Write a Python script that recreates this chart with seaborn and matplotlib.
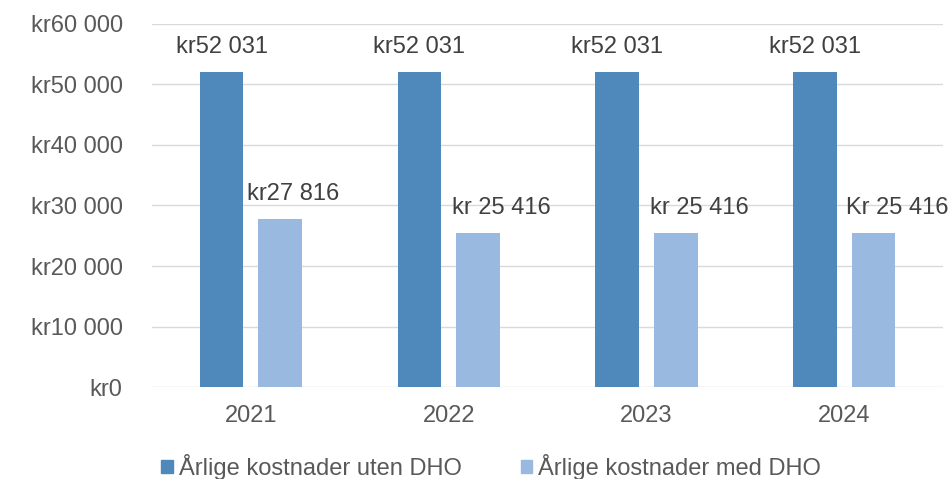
import matplotlib
matplotlib.use("Agg")
import matplotlib.pyplot as plt
import seaborn as sns
import pandas as pd
from matplotlib.ticker import FuncFormatter

years = ["2021", "2022", "2023", "2024"]
series = ["Årlige kostnader uten DHO", "Årlige kostnader med DHO"]
uten_dho = [52031, 52031, 52031, 52031]
med_dho = [27816, 25416, 25416, 25416]
uten_labels = ["kr52 031", "kr52 031", "kr52 031", "kr52 031"]
med_labels = ["kr27 816", "kr 25 416", "kr 25 416", "Kr 25 416"]
yticks = [0, 10000, 20000, 30000, 40000, 50000, 60000]

df = pd.DataFrame({
    "År": years * 2,
    "Serie": [series[0]] * 4 + [series[1]] * 4,
    "Kostnad": uten_dho + med_dho,
})

sns.set_theme(style="white")
plt.rcParams["font.family"] = ["Liberation Sans", "DejaVu Sans"]

FS = 17
colors = ["#4F89BC", "#99B9E0"]
fig = plt.figure(figsize=(9.49, 4.79), dpi=100)
ax = fig.add_axes([0.160, 0.192, 0.834, 0.758])

sns.barplot(data=df, x="År", y="Kostnad", hue="Serie", palette=colors,
            width=0.59, gap=0.25, ax=ax, legend=False, saturation=1,
            edgecolor="none")

ax.set_ylim(0, 60000)
ax.set_yticks(yticks)
ax.yaxis.set_major_formatter(FuncFormatter(
    lambda v, p: "kr" + f"{int(v):,}".replace(",", " ")))
ax.set_xlim(-0.5, 3.5)
ax.set_xlabel("")
ax.set_ylabel("")
ax.grid(axis="y", color="#D9D9D9", linewidth=1.0)
ax.set_axisbelow(True)
for s in ax.spines.values():
    s.set_visible(False)
ax.tick_params(axis="y", length=0, pad=21, labelsize=FS, labelcolor="#595959")
ax.tick_params(axis="x", length=0, pad=13, labelsize=FS, labelcolor="#595959")

# data labels
label_dx_px = [[0, 0, 0, 0], [13, 24, 24, 24]]
for ci, (cont, labs) in enumerate(zip(ax.containers, [uten_labels, med_labels])):
    for bi, (bar, lab) in enumerate(zip(cont, labs)):
        xc = bar.get_x() + bar.get_width() / 2
        ax.annotate(lab, (xc, bar.get_height()),
                    xytext=(label_dx_px[ci][bi] * 0.72, 25 * 0.72),
                    textcoords="offset points", ha="center", va="center",
                    fontsize=FS, color="#404040")

handles = [plt.Rectangle((0, 0), 1, 1, color=c) for c in colors]
fig.legend(handles, series, loc="center", bbox_to_anchor=(491 / 949, 1 - 467 / 479),
           ncol=2, frameon=False, fontsize=FS, labelcolor="#595959",
           handlelength=0.5, handleheight=0.5, handletextpad=0.25,
           columnspacing=2.5)

fig.savefig("out.png", dpi=100)
